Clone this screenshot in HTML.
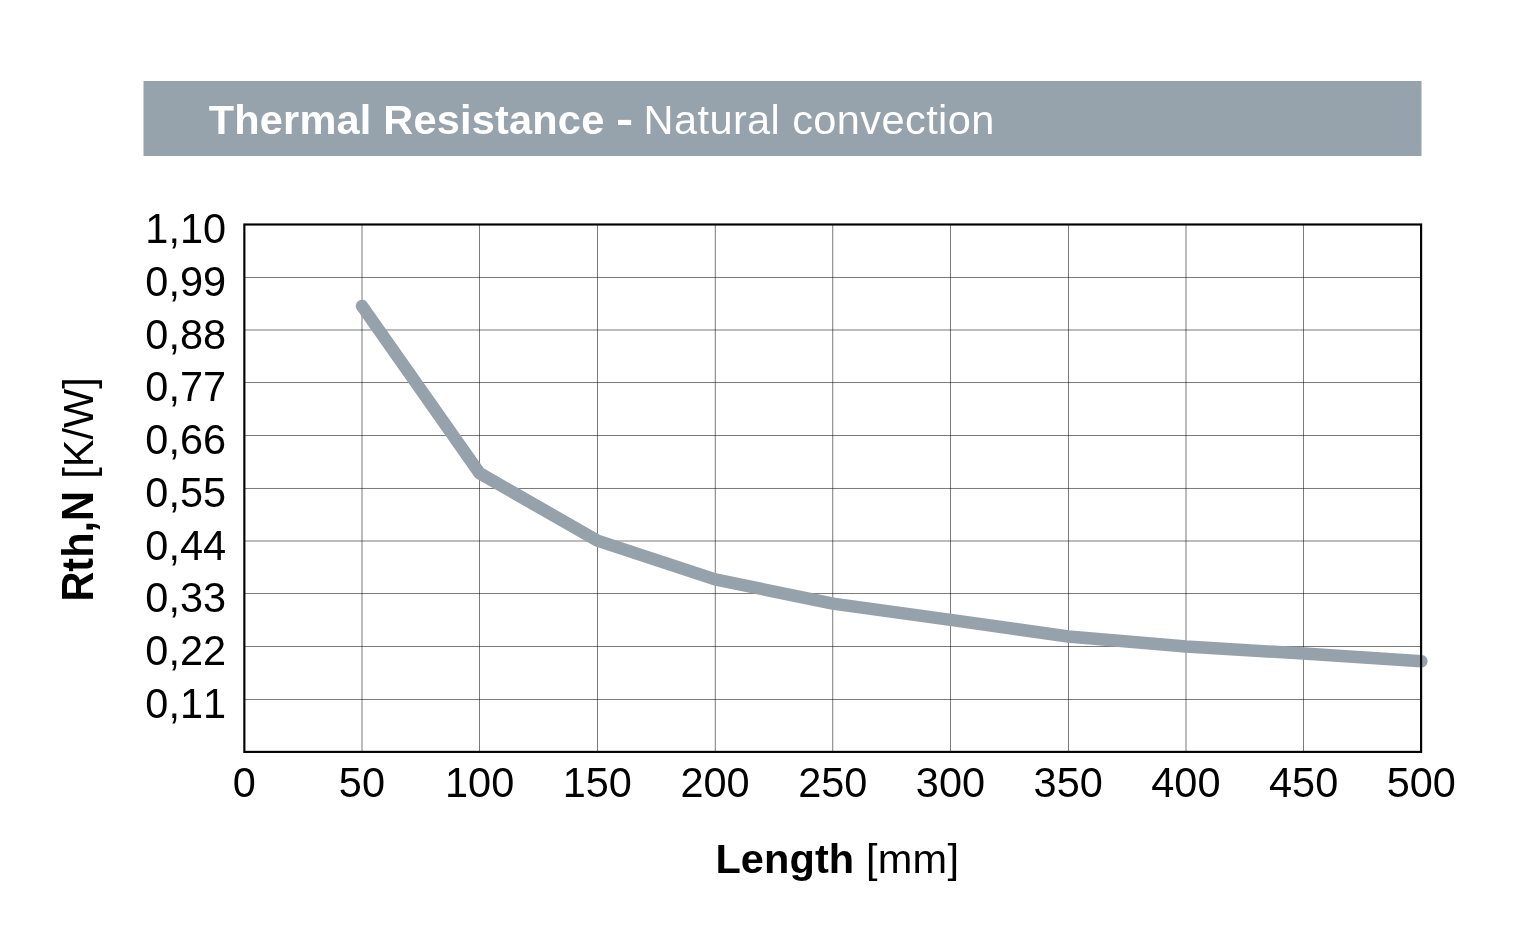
<!DOCTYPE html>
<html lang="en">
<head>
<meta charset="utf-8">
<title>Thermal Resistance - Natural convection</title>
<style>
html,body{margin:0;padding:0;background:#fff;}
body{width:1526px;height:947px;overflow:hidden;position:relative;}
svg{position:absolute;left:0;top:0;display:block;}
text{font-family:"Liberation Sans", sans-serif;font-size:41.5px;fill:#000;font-kerning:none;}
.b{font-weight:700;}
.w{fill:#fff;}
</style>
</head>
<body>
<svg width="1526" height="947" viewBox="0 0 1526 947">
<rect x="143.5" y="81" width="1278" height="75" fill="#96a3ac"/>
<text class="b w" x="208.7" y="134" style="letter-spacing:0.2px">Thermal Resistance</text>
<text class="b w" transform="translate(615.95,133.6) scale(1.243,1.04)">-</text>
<text class="w" x="643.6" y="134" style="letter-spacing:0.41px">Natural convection</text>
<g fill="#000" stroke="none">
<rect x="361.74" y="224.50" width="0.52" height="527.50"/>
<rect x="479.46" y="224.50" width="0.52" height="527.50"/>
<rect x="597.17" y="224.50" width="0.52" height="527.50"/>
<rect x="714.89" y="224.50" width="0.52" height="527.50"/>
<rect x="832.60" y="224.50" width="0.52" height="527.50"/>
<rect x="950.31" y="224.50" width="0.52" height="527.50"/>
<rect x="1068.03" y="224.50" width="0.52" height="527.50"/>
<rect x="1185.74" y="224.50" width="0.52" height="527.50"/>
<rect x="1303.46" y="224.50" width="0.52" height="527.50"/>
<rect x="244.29" y="276.99" width="1177.14" height="0.52"/>
<rect x="244.29" y="329.74" width="1177.14" height="0.52"/>
<rect x="244.29" y="382.49" width="1177.14" height="0.52"/>
<rect x="244.29" y="435.24" width="1177.14" height="0.52"/>
<rect x="244.29" y="487.99" width="1177.14" height="0.52"/>
<rect x="244.29" y="540.74" width="1177.14" height="0.52"/>
<rect x="244.29" y="593.49" width="1177.14" height="0.52"/>
<rect x="244.29" y="646.24" width="1177.14" height="0.52"/>
<rect x="244.29" y="698.99" width="1177.14" height="0.52"/>
</g>
<polyline fill="none" stroke="#95a2ab" stroke-width="12.5" stroke-linecap="round" stroke-linejoin="round" points="362.0,306.0 479.7,473.3 597.4,540.6 715.1,579.4 832.9,603.6 950.6,619.9 1068.3,636.5 1186.0,646.4 1303.7,653.6 1421.4,661.2"/>
<rect x="244.35" y="224.50" width="1176.75" height="527.40" fill="none" stroke="#000" stroke-width="2.15"/>
<text transform="translate(226.1,243.10) scale(1,1.02)" text-anchor="end">1,10</text>
<text transform="translate(226.1,295.85) scale(1,1.02)" text-anchor="end">0,99</text>
<text transform="translate(226.1,348.60) scale(1,1.02)" text-anchor="end">0,88</text>
<text transform="translate(226.1,401.35) scale(1,1.02)" text-anchor="end">0,77</text>
<text transform="translate(226.1,454.10) scale(1,1.02)" text-anchor="end">0,66</text>
<text transform="translate(226.1,506.85) scale(1,1.02)" text-anchor="end">0,55</text>
<text transform="translate(226.1,559.60) scale(1,1.02)" text-anchor="end">0,44</text>
<text transform="translate(226.1,612.35) scale(1,1.02)" text-anchor="end">0,33</text>
<text transform="translate(226.1,665.10) scale(1,1.02)" text-anchor="end">0,22</text>
<text transform="translate(226.1,717.85) scale(1,1.02)" text-anchor="end">0,11</text>
<text transform="translate(244.19,796.8) scale(1,1.02)" text-anchor="middle">0</text>
<text transform="translate(361.90,796.8) scale(1,1.02)" text-anchor="middle">50</text>
<text transform="translate(479.62,796.8) scale(1,1.02)" text-anchor="middle">100</text>
<text transform="translate(597.33,796.8) scale(1,1.02)" text-anchor="middle">150</text>
<text transform="translate(715.05,796.8) scale(1,1.02)" text-anchor="middle">200</text>
<text transform="translate(832.76,796.8) scale(1,1.02)" text-anchor="middle">250</text>
<text transform="translate(950.47,796.8) scale(1,1.02)" text-anchor="middle">300</text>
<text transform="translate(1068.19,796.8) scale(1,1.02)" text-anchor="middle">350</text>
<text transform="translate(1185.90,796.8) scale(1,1.02)" text-anchor="middle">400</text>
<text transform="translate(1303.62,796.8) scale(1,1.02)" text-anchor="middle">450</text>
<text transform="translate(1421.33,796.8) scale(1,1.02)" text-anchor="middle">500</text>
<text class="b" x="715.4" y="873.2" style="letter-spacing:0.1px">Length</text>
<text x="865.9" y="873.2" style="letter-spacing:0.3px">[mm]</text>
<text class="b" transform="translate(92.5,601.6) rotate(-90) scale(1,1.05)">Rth,N</text>
<text transform="translate(92.5,478.7) rotate(-90) scale(1,1.035)">[K/W]</text>
</svg>
</body>
</html>
